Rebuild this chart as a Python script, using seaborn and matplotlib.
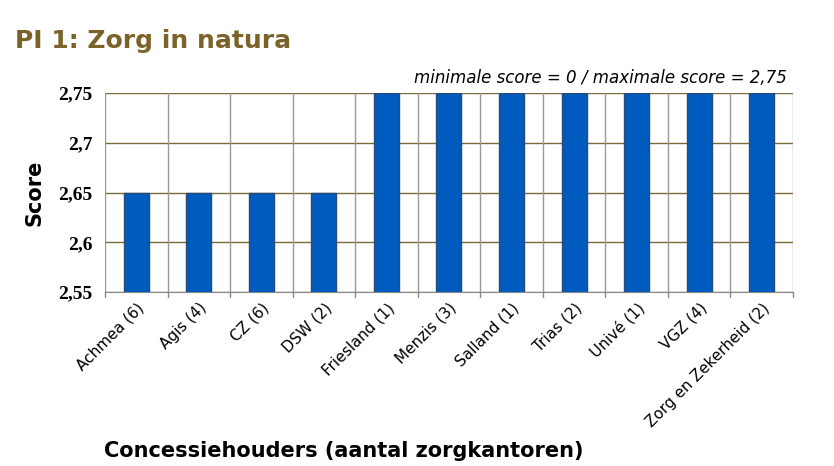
import matplotlib
matplotlib.use('Agg')
import matplotlib.pyplot as plt
import pandas as pd
import seaborn as sns

# Gegevens
concessiehouders = ['Achmea (6)', 'Agis (4)', 'CZ (6)', 'DSW (2)', 'Friesland (1)',
                    'Menzis (3)', 'Salland (1)', 'Trias (2)', 'Univé (1)', 'VGZ (4)',
                    'Zorg en Zekerheid (2)']
scores = [2.65, 2.65, 2.65, 2.65, 2.75, 2.75, 2.75, 2.75, 2.75, 2.75, 2.75]
y_ticks = [2.55, 2.6, 2.65, 2.7, 2.75]
y_labels = ['2,55', '2,6', '2,65', '2,7', '2,75']

df = pd.DataFrame({'Concessiehouder': concessiehouders, 'Score': scores})

sns.set_style('white')
plt.rcParams['font.family'] = ['DejaVu Sans']
plt.rcParams['text.color'] = 'black'
plt.rcParams['axes.labelcolor'] = 'black'
plt.rcParams['xtick.color'] = 'black'
plt.rcParams['ytick.color'] = 'black'

fig = plt.figure(figsize=(8.34, 4.66), dpi=100)
ax = fig.add_axes([0.1259, 0.3734, 0.8249, 0.427])

sns.barplot(x='Concessiehouder', y='Score', data=df, color='#005BBF',
            width=0.4, edgecolor='#2A4A7A', linewidth=1, saturation=1, ax=ax, zorder=3)

ax.set_ylim(2.55, 2.75)
ax.set_xlim(-0.5, len(concessiehouders) - 0.5)
ax.set_yticks(y_ticks)
ax.set_yticklabels(y_labels, fontfamily='Liberation Serif', fontweight='bold', fontsize=14)

# rasterlijnen
for y in y_ticks:
    ax.axhline(y, color='#7A6A3A', linewidth=1, zorder=1)
for i in range(len(concessiehouders) + 1):
    ax.axvline(i - 0.5, color='#999999', linewidth=1, zorder=1)

ax.set_xticks(range(len(concessiehouders)))
ax.set_xticklabels(concessiehouders, rotation=45, ha='right', rotation_mode='anchor', fontsize=11)
ax.tick_params(axis='x', length=0, pad=6)
ax.tick_params(axis='y', length=0, pad=9)

# kleine streepjes onder de as tussen de categorieën
for i in range(len(concessiehouders) + 1):
    ax.plot([i - 0.5, i - 0.5], [2.55, 2.545], color='#888888', linewidth=1,
            clip_on=False, zorder=1)

for side in ['top', 'right', 'left']:
    ax.spines[side].set_visible(False)
ax.spines['bottom'].set_color('#888888')

ax.set_xlabel('')
ax.set_ylabel('Score', fontsize=15, fontweight='bold', labelpad=10)

fig.text(0.018, 0.897, 'PI 1: Zorg in natura', fontsize=18, fontweight='bold', color='#7B6228')
fig.text(0.944, 0.822, 'minimale score = 0 / maximale score = 2,75', fontsize=12,
         style='italic', ha='right')
fig.text(0.125, 0.02, 'Concessiehouders (aantal zorgkantoren)', fontsize=15, fontweight='bold')

plt.savefig('out.png', dpi=100)
